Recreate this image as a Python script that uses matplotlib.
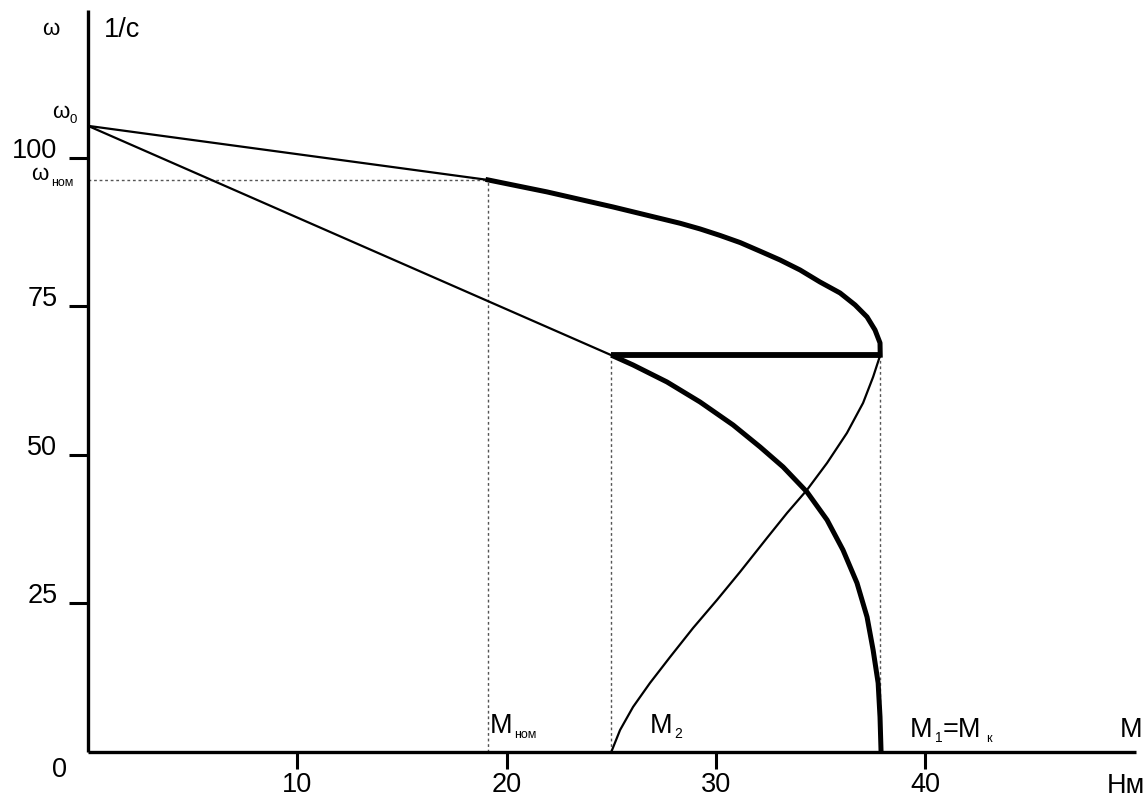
import matplotlib
matplotlib.use("Agg")
import matplotlib.pyplot as plt

# ------------------ DATA ------------------ #
W0, W_NOM, W_K = 105.4, 96.3, 66.8     # omega_0, omega_nom, omega at critical torque
M_NOM, M2, M_K = 19.1, 25.0, 37.85     # torques, N*m

# thin start of the natural characteristic (omega_0 -> nominal point)
nat_thin_m = [0.0, M_NOM]
nat_thin_w = [W0, W_NOM]

# thick working part of the natural characteristic
nat_m = [19.11, 21.93, 25.08, 28.29, 29.24, 30.20, 31.16, 32.11, 33.06,
         34.02, 34.97, 35.93, 36.65, 37.22, 37.60, 37.84, 37.85]
nat_w = [96.30, 94.28, 91.75, 89.00, 88.05, 86.95, 85.75, 84.30, 82.83,
         81.14, 79.12, 77.27, 75.25, 73.23, 71.04, 68.86, 66.8]

# artificial (rheostat) line omega_0 -> M2
art_m = [0.0, M2]
art_w = [W0, W_K]

# thick horizontal switching line
sw_m = [M2, M_K]
sw_w = [W_K, W_K]

# thick lower curve M2 -> Mk at zero speed
low_m = [25.0, 26.04, 27.66, 29.24, 30.82, 32.11, 33.21, 34.35, 35.31,
         36.07, 36.74, 37.22, 37.51, 37.75, 37.84, 37.89]
low_w = [66.8, 65.15, 62.29, 58.92, 55.05, 51.35, 47.98, 43.77, 39.06,
         34.01, 28.45, 22.73, 17.17, 11.62, 5.89, 0.0]

# thin S-curve from M2 at zero speed up to Mk
s_m = [25.0, 25.42, 26.04, 26.85, 27.81, 28.91, 30.05, 31.15, 32.44,
       33.40, 34.35, 35.31, 36.26, 37.03, 37.51, 37.85]
s_w = [0.0, 3.70, 7.58, 11.62, 15.99, 20.88, 25.59, 30.30, 36.03,
       40.24, 44.11, 48.65, 53.70, 58.75, 63.13, 66.8]

x_ticks = [10, 20, 30, 40]
y_ticks = [25, 50, 75, 100]
# -------------------------------------------- #

plt.rcParams["font.family"] = ["Liberation Sans", "DejaVu Sans"]
W, H = 1147, 801
fig = plt.figure(figsize=(W / 100, H / 100), dpi=100)
ax = fig.add_axes([88 / W, (H - 752) / H, (1136 - 88) / W, (752 - 10) / H])
ax.set_xlim(0, 50.07)
ax.set_ylim(0, 124.9)

for s in ["top", "right"]:
    ax.spines[s].set_visible(False)
for s in ["left", "bottom"]:
    ax.spines[s].set_linewidth(2.4)
    ax.spines[s].set_capstyle("butt")

thin, thick = 1.6, 3.6
dot = dict(color="#555555", lw=1.0, ls=(0, (2, 2)))

# dotted guides
ax.plot([0, M_NOM], [W_NOM, W_NOM], **dot)
ax.plot([M_NOM, M_NOM], [0, W_NOM], **dot)
ax.plot([M2, M2], [0, W_K], **dot)
ax.plot([M_K, M_K], [0, W_K], **dot)

ax.plot(nat_thin_m, nat_thin_w, color="black", lw=thin, solid_capstyle="butt")
ax.plot(nat_m, nat_w, color="black", lw=thick, solid_joinstyle="round")
ax.plot(art_m, art_w, color="black", lw=thin)
ax.plot(sw_m, sw_w, color="black", lw=thick + 0.6, solid_capstyle="butt")
ax.plot(low_m, low_w, color="black", lw=thick, solid_joinstyle="round",
        solid_capstyle="butt")
ax.plot(s_m, s_w, color="black", lw=thin, solid_joinstyle="round")

ax.set_xticks(x_ticks)
ax.set_xticklabels([str(v) for v in x_ticks])
ax.set_yticks(y_ticks)
ax.set_yticklabels([str(v) for v in y_ticks])
ax.tick_params(axis="x", direction="out", length=12.5, width=2.2, pad=2, labelsize=19.5)
ax.tick_params(axis="y", direction="out", length=13.5, width=2.2, pad=8.5, labelsize=19.5)
for lab in ax.get_yticklabels():
    lab.set_verticalalignment("baseline")


def ptext(x, y, s, size=19.5):
    fig.text(x / W, 1 - y / H, s, fontsize=size, ha="left", va="baseline")


ptext(42, 35, "ω", 16)
ptext(104, 37, "1/c")
ptext(52, 118, "ω", 16)
ptext(69, 123, "0", 9.5)
ptext(31, 180, "ω", 16)
ptext(51, 186, "ном", 9)
ptext(52, 777, "0")

ptext(490, 733, "М")
ptext(514, 738, "ном", 9)
ptext(650, 733, "М")
ptext(674, 738, "2", 10)
ptext(910, 737, "М")
ptext(935, 742, "1", 10)
ptext(943, 737, "=М")
ptext(986, 742, "к", 9)
ptext(1120, 737, "М")
ptext(1107, 793, "Нм")

fig.savefig("out.png", dpi=100, facecolor="white")
